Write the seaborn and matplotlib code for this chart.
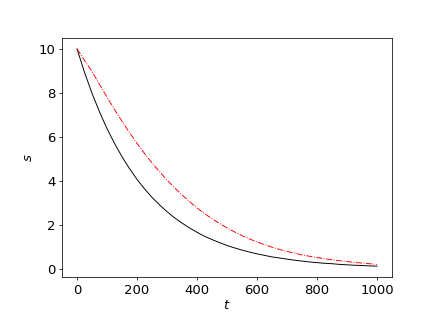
import numpy as np
import pandas as pd
import matplotlib
matplotlib.use("Agg")
import matplotlib.pyplot as plt
import seaborn as sns

t = [0, 25, 50, 75, 100, 125, 150, 175, 200, 225, 250, 275, 300, 325, 350,
     375, 400, 425, 450, 475, 500, 525, 550, 575, 600, 625, 650, 675, 700,
     725, 750, 775, 800, 825, 850, 875, 900, 925, 950, 975, 1000]
s_black = [10.0, 8.93, 7.98, 7.13, 6.37, 5.70, 5.09, 4.55, 4.06, 3.63, 3.24,
           2.90, 2.59, 2.31, 2.07, 1.85, 1.65, 1.47, 1.32, 1.18, 1.05, 0.94,
           0.84, 0.75, 0.67, 0.60, 0.53, 0.48, 0.43, 0.38, 0.34, 0.30, 0.27,
           0.24, 0.22, 0.19, 0.17, 0.15, 0.14, 0.12, 0.11]
s_red = [10.0, 9.48, 8.97, 8.38, 7.80, 7.24, 6.70, 6.19, 5.70, 5.24, 4.81,
         4.41, 4.03, 3.68, 3.35, 3.05, 2.76, 2.50, 2.27, 2.05, 1.85, 1.67,
         1.50, 1.35, 1.21, 1.09, 0.97, 0.87, 0.78, 0.70, 0.62, 0.56, 0.50,
         0.45, 0.40, 0.36, 0.32, 0.28, 0.25, 0.22, 0.19]

df_black = pd.DataFrame({"t": t, "s": s_black})
df_red = pd.DataFrame({"t": t, "s": s_red})

plt.rcParams["font.size"] = 14
fig = plt.figure(figsize=(6.4, 4.8), dpi=436 / 6.4)
ax = fig.add_axes([62 / 436, 50 / 327, 330 / 436, 239 / 327])

sns.lineplot(data=df_black, x="t", y="s", ax=ax, color="black", linewidth=1.0)
sns.lineplot(data=df_red, x="t", y="s", ax=ax, color="red", linewidth=1.0,
             linestyle="-.")

ax.set_xlabel("$t$", labelpad=2)
ax.set_ylabel("$s$")
ax.set_xticks([0, 200, 400, 600, 800, 1000])
ax.set_yticks([0, 2, 4, 6, 8, 10])

fig.savefig("out.png", dpi=436 / 6.4)
